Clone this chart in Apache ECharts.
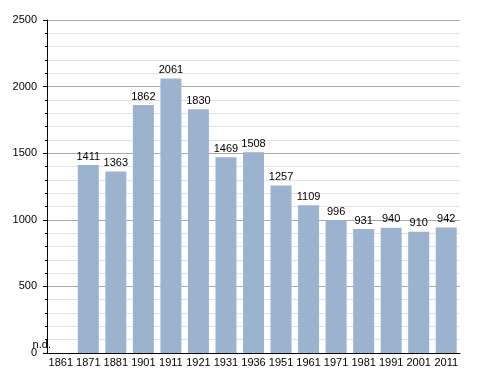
<!DOCTYPE html>
<html><head><meta charset="utf-8">
<script src="https://cdn.jsdelivr.net/npm/echarts@6/dist/echarts.min.js"></script>
<style>html,body{margin:0;padding:0;background:#fff}#c{width:488px;height:373px}</style>
</head><body><div id="c"></div>
<script>
var categories = ['1861','1871','1881','1901','1911','1921','1931','1936','1951','1961','1971','1981','1991','2001','2011'];
var population = [null,1411,1363,1862,2061,1830,1469,1508,1257,1109,996,931,940,910,942];
var missingLabel = 'n.d.';

var chart = echarts.init(document.getElementById('c'));
var seriesData = population.map(function(v){
  if (v === null) {
    return {value: 0, label: {show: true, formatter: missingLabel, offset: [-19, 0]}};
  }
  return v;
});
chart.setOption({
  animation: false,
  textStyle: {fontFamily: 'Liberation Sans, Arial, sans-serif'},
  grid: {left: 47, right: 28, top: 20, bottom: 20, containLabel: false},
  xAxis: {
    type: 'category',
    data: categories,
    axisLine: {lineStyle: {color: '#000', width: 1}},
    axisTick: {show: false},
    axisLabel: {color: '#000', fontSize: 11, margin: 4, interval: 0}
  },
  yAxis: {
    type: 'value',
    min: 0, max: 2500, interval: 500,
    axisLine: {show: true, lineStyle: {color: '#000'}},
    axisTick: {show: true, inside: false, length: 4, lineStyle: {color: '#000'}},
    minorTick: {show: true, splitNumber: 5, length: 2, lineStyle: {color: '#000'}},
    axisLabel: {color: '#000', fontSize: 11, margin: 10, formatter: function(v){ return String(v); }},
    splitLine: {show: true, lineStyle: {color: '#a8a8a8', width: 1}},
    minorSplitLine: {show: true, lineStyle: {color: '#e2e2e2', width: 1}}
  },
  series: [{
    type: 'bar',
    data: seriesData,
    barWidth: 21,
    itemStyle: {color: '#9cb3cf'},
    label: {show: true, position: 'top', color: '#000', fontSize: 11, distance: 3}
  }]
});
</script></body></html>
